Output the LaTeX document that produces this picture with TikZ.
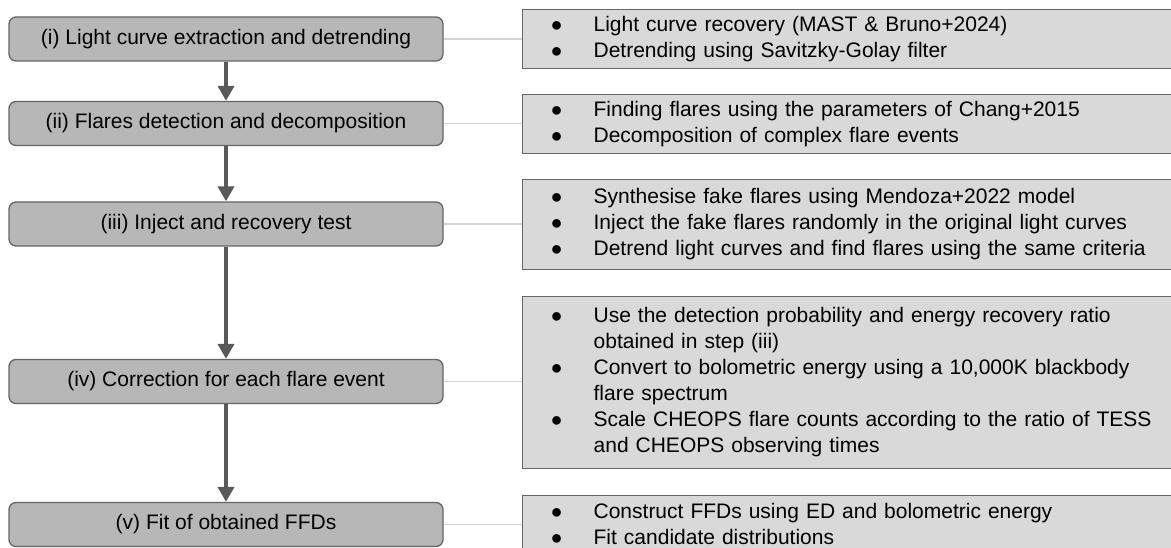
\documentclass[tikz,border=0pt]{standalone}
\usepackage{fontspec}
\setmainfont{Liberation Sans}
\usetikzlibrary{arrows.meta}
\definecolor{stepfill}{HTML}{B7B7B7}
\definecolor{stepdraw}{HTML}{666666}
\definecolor{notefill}{HTML}{D9D9D9}
\definecolor{linkgray}{HTML}{D4D4D4}
\definecolor{arrowgray}{HTML}{595959}
\newcommand\bul{\makebox[41pt][l]{\hspace{-2pt}\fontsize{20}{20}\selectfont ●}}
\begin{document}
\begin{tikzpicture}[x=1pt,y=-1pt,
  stepbox/.style={draw=stepdraw, fill=stepfill, line width=1.3pt, rounded corners=7pt,
    minimum width=434pt, minimum height=44pt, inner sep=0pt, font=\fontsize{21}{25}\selectfont},
  notebox/.style={draw=stepdraw, fill=notefill, line width=1.3pt, anchor=north west,
    text width=598pt, inner xsep=30pt, inner ysep=0pt, align=left,
    font=\fontsize{21}{26}\selectfont},
  flow/.style={draw=arrowgray, line width=4.5pt, -{Triangle[length=15pt,width=16pt]}},
  link/.style={draw=linkgray, line width=1.5pt}]
\clip (0,0) rectangle (1171,548);
\fill[white] (0,0) rectangle (1171,548);

\node[stepbox] (s1) at (226,39) {(i) Light curve extraction and detrending};
\node[stepbox] (s2) at (226,123.5) {(ii) Flares detection and decomposition};
\node[stepbox] (s3) at (226,224) {(iii) Inject and recovery test};
\node[stepbox] (s4) at (226,381.5) {(iv) Correction for each flare event};
\node[stepbox] (s5) at (226,524.5) {(v) Fit of obtained FFDs};

\node[notebox, minimum height=59pt] (r1) at (522,9) {\begin{tabular}{@{}l@{}l@{}}
\bul & Light curve recovery (MAST \& Bruno+2024)\\
\bul & Detrending using Savitzky-Golay filter
\end{tabular}};
\node[notebox, minimum height=59pt] (r2) at (522,94) {\begin{tabular}{@{}l@{}l@{}}
\bul & Finding flares using the parameters of Chang+2015\\
\bul & Decomposition of complex flare events
\end{tabular}};
\node[notebox, minimum height=90pt] (r3) at (522,179) {\begin{tabular}{@{}l@{}l@{}}
\bul & Synthesise fake flares using Mendoza+2022 model\\
\bul & Inject the fake flares randomly in the original light curves\\
\bul & Detrend light curves and find flares using the same criteria
\end{tabular}};
\node[notebox, minimum height=172pt] (r4) at (522,296) {\begin{tabular}{@{}l@{}l@{}}
\bul & Use the detection probability and energy recovery ratio\\
 & obtained in step (iii)\\
\bul & Convert to bolometric energy using a 10,000K blackbody\\
 & flare spectrum\\
\bul & Scale CHEOPS flare counts according to the ratio of TESS\\
 & and CHEOPS observing times
\end{tabular}};
\node[notebox, minimum height=61pt] (r5) at (522,495) {\begin{tabular}{@{}l@{}l@{}}
\bul & Construct FFDs using ED and bolometric energy\\
\bul & Fit candidate distributions
\end{tabular}};

\foreach \i in {1,...,5} {
  \draw[link] (s\i.east) -- (s\i.east -| r\i.west);
}
\draw[flow] (s1) -- (s2);
\draw[flow] (s2) -- (s3);
\draw[flow] (s3) -- (s4);
\draw[flow] (s4) -- (s5);
\end{tikzpicture}
\end{document}
